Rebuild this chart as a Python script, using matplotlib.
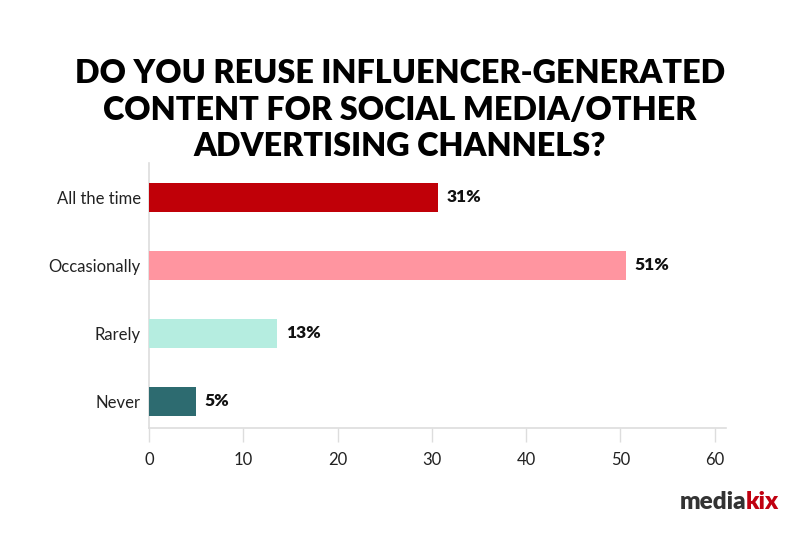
import matplotlib
matplotlib.use("Agg")
import matplotlib.pyplot as plt

categories = ["All the time", "Occasionally", "Rarely", "Never"]
values = [30.7, 50.6, 13.6, 5.0]
value_labels = ["31%", "51%", "13%", "5%"]
colors = ["#C00008", "#FF95A0", "#B5EDE0", "#2D6B70"]
x_ticks = [0, 10, 20, 30, 40, 50, 60]

title = "DO YOU REUSE INFLUENCER-GENERATED\nCONTENT FOR SOCIAL MEDIA/OTHER\nADVERTISING CHANNELS?"

fig = plt.figure(figsize=(8, 5.33), dpi=100)
ax = fig.add_axes([149/800, 1-428/533, (726-149)/800, (428-163)/533])

y = list(range(len(categories)))
ax.barh(y, values, height=0.43, color=colors, zorder=3)
for yi, v, lab in zip(y, values, value_labels):
    ax.text(v + 0.9, yi, lab, va="center", ha="left", fontsize=12.5,
            fontweight="heavy", family="Lato", color="#111111")

ax.set_ylim(3.39, -0.507)
ax.set_xlim(0, 61.2)
ax.set_yticks(y)
ax.set_yticklabels(categories, family="Lato", fontsize=12, color="#222222")
ax.set_xticks(x_ticks)
ax.set_xticklabels([str(t) for t in x_ticks], family="Lato", fontsize=12, color="#222222")
ax.tick_params(axis="y", length=0, pad=6)
ax.tick_params(axis="x", length=10, color="#dddddd", width=1, pad=7)
for s in ["top", "right"]:
    ax.spines[s].set_visible(False)
ax.spines["left"].set_color("#dddddd")
ax.spines["bottom"].set_color("#dddddd")
ax.spines["left"].set_linewidth(1.2)
ax.spines["bottom"].set_linewidth(1.2)

fig.text(0.5, 1-110/533, title, ha="center", va="center", fontsize=23.3,
         fontweight="heavy", family="Lato", color="#000000", linespacing=1.33)

fig.text(746/800, 1-502/533, "media", ha="right", va="center", fontsize=17.5,
         fontweight="heavy", family="Lato", color="#333333")
fig.text(746/800, 1-502/533, "kix", ha="left", va="center", fontsize=17.5,
         fontweight="heavy", family="Lato", color="#C00010")

fig.savefig("out.png", dpi=100)
